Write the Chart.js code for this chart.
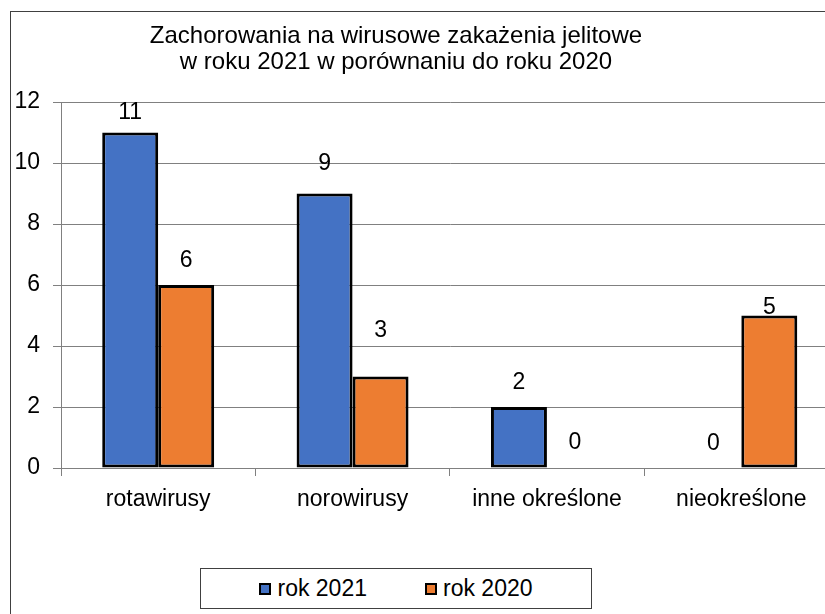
<!DOCTYPE html>
<html lang="pl">
<head>
<meta charset="utf-8">
<title>Zachorowania na wirusowe zakażenia jelitowe</title>
<script src="https://cdn.jsdelivr.net/npm/chart.js@4"></script>
<style>
    html, body { margin: 0; padding: 0; background: #fff; }
    #wrap { position: relative; width: 825px; height: 614px; overflow: hidden; background: #fff; }
    #frame { position: absolute; left: 10px; top: 11px; width: 900px; height: 700px; border: 1px solid #404040; box-sizing: border-box; }
    #yieldCanvas { position: absolute; left: 0; top: 0; }
    #chartTitle {
        position: absolute; left: 96px; width: 600px; top: 22px; white-space: nowrap;
        text-align: center; font: 24px "Liberation Sans", Arial, sans-serif; line-height: 26px; color: #000;
    }
    #legendBox {
        position: absolute; left: 200px; top: 568px; width: 392px; height: 41px;
        border: 1px solid #404040; box-sizing: border-box; background: #fff;
        display: flex; justify-content: center; align-items: center; gap: 58px;
        font: 23px "Liberation Sans", Arial, sans-serif; color: #000;
    }
    .leg-item { display: flex; align-items: center; }
    .leg-swatch { width: 12px; height: 12px; border: 2px solid #000; box-sizing: border-box; margin-right: 6px; }
</style>
</head>
<body>
<div id="wrap">
    <div id="frame"></div>
    <canvas id="yieldCanvas" width="850" height="614"></canvas>
    <div id="chartTitle">Zachorowania na wirusowe zakażenia jelitowe<br>w roku 2021 w porównaniu do roku 2020</div>
    <div id="legendBox"></div>
</div>
<script>
// Categories and values
const categories = ['rotawirusy', 'norowirusy', 'inne określone', 'nieokreślone'];
const cases2021 = [11, 9, 2, 0];
const cases2020 = [6, 3, 0, 5];
const seriesNames = ['rok 2021', 'rok 2020'];
const yTicks = [0, 2, 4, 6, 8, 10, 12];

// How far above the bar top each value label sits (px), as in the original
const labelLift = [
    [20, 30, 24, 24],
    [24, 46, 25, 8]
];

const COLORS = ['#4472C4', '#ED7D31'];
const FONT = '"Liberation Sans", Arial, sans-serif';
const GRID = '#808080';

// Draws the numbers above the bars
const valueLabels = {
    id: 'valueLabels',
    afterDatasetsDraw(chart) {
        const ctx = chart.ctx;
        ctx.save();
        ctx.font = '23px ' + FONT;
        ctx.fillStyle = '#000';
        ctx.textAlign = 'center';
        ctx.textBaseline = 'middle';
        chart.data.datasets.forEach((ds, di) => {
            chart.getDatasetMeta(di).data.forEach((bar, i) => {
                ctx.fillText(String(ds.data[i]), bar.x, bar.y - labelLift[di][i]);
            });
        });
        ctx.restore();
    }
};

const chart = new Chart(document.getElementById('yieldCanvas'), {
    type: 'bar',
    data: {
        labels: categories,
        datasets: [
            { label: seriesNames[0], data: cases2021, backgroundColor: COLORS[0] },
            { label: seriesNames[1], data: cases2020, backgroundColor: COLORS[1] }
        ]
    },
    options: {
        responsive: false,
        animation: false,
        layout: { padding: { left: 0, right: 11.5, top: 102, bottom: 0 } },
        datasets: {
            bar: {
                borderColor: '#000',
                borderWidth: 3,
                borderSkipped: false,
                categoryPercentage: 0.576,
                barPercentage: 1
            }
        },
        plugins: {
            legend: { display: false },
            title: { display: false },
            tooltip: { enabled: false }
        },
        scales: {
            x: {
                offset: true,
                grid: { offset: true, drawOnChartArea: false, color: GRID, tickLength: 8 },
                border: { color: GRID },
                ticks: { color: '#000', font: { family: FONT, size: 23 }, padding: 10, maxRotation: 0 },
                afterFit: (s) => { s.height = 146; }
            },
            y: {
                min: 0,
                max: 12,
                afterBuildTicks: (s) => { s.ticks = yTicks.map(v => ({ value: v })); },
                grid: { color: GRID, tickLength: 8 },
                border: { color: GRID },
                ticks: { color: '#000', font: { family: FONT, size: 23 }, padding: 13 },
                afterFit: (s) => { s.width = 61; }
            }
        }
    },
    plugins: [valueLabels]
});

// Legend built from the datasets
const legendBox = document.getElementById('legendBox');
chart.data.datasets.forEach(ds => {
    const item = document.createElement('div');
    item.className = 'leg-item';
    const sw = document.createElement('span');
    sw.className = 'leg-swatch';
    sw.style.background = ds.backgroundColor;
    item.appendChild(sw);
    item.appendChild(document.createTextNode(ds.label));
    legendBox.appendChild(item);
});
</script>
</body>
</html>
